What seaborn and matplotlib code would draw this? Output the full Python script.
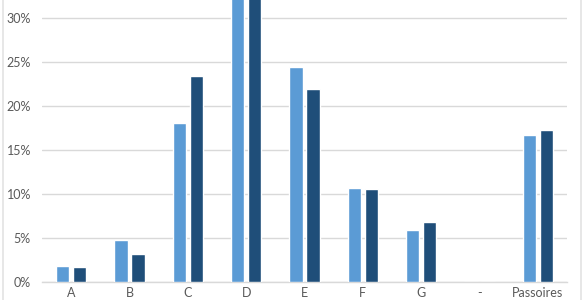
import matplotlib
matplotlib.use("Agg")
import matplotlib.pyplot as plt
import seaborn as sns
import pandas as pd
from matplotlib.lines import Line2D
from matplotlib.ticker import FuncFormatter

categories = ["A", "B", "C", "D", "E", "F", "G", "-", "Passoires"]
series_names = ["Série 1", "Série 2"]
values_1 = [1.8, 4.8, 18.0, 33.5, 24.4, 10.7, 5.9, 0.0, 16.7]
values_2 = [1.7, 3.2, 23.4, 34.0, 21.9, 10.5, 6.8, 0.0, 17.3]
yticks = [0, 5, 10, 15, 20, 25, 30]

df = pd.DataFrame({
    "cat": categories * 2,
    "serie": [series_names[0]] * len(categories) + [series_names[1]] * len(categories),
    "val": values_1 + values_2,
})

sns.set_theme(style="white")
plt.rcParams["font.family"] = ["Lato", "DejaVu Sans"]

fig = plt.figure(figsize=(5.85, 3.0), dpi=100)
ax = fig.add_axes([42 / 585, (300 - 281.7) / 300, (567 - 42) / 585, 281.7 / 300])

sns.barplot(data=df, x="cat", y="val", hue="serie", order=categories,
            hue_order=series_names, palette=["#5B9BD5", "#1F4E79"],
            saturation=1, width=0.583, gap=0.235, legend=False, ax=ax, zorder=3)

ax.set_ylim(0, 32.05)
ax.set_xlim(-0.5, len(categories) - 0.5)
ax.set_yticks(yticks)
ax.yaxis.set_major_formatter(FuncFormatter(lambda v, p: f"{v:.0f}%"))
ax.grid(axis="y", color="#D9D9D9", linewidth=1.0, zorder=0)
ax.set_axisbelow(True)
for s in ["top", "right", "left"]:
    ax.spines[s].set_visible(False)
ax.spines["bottom"].set_color("#D9D9D9")
ax.spines["bottom"].set_linewidth(1.0)
ax.set_xlabel("")
ax.set_ylabel("")
ax.tick_params(axis="y", length=0, pad=8, labelsize=9, labelcolor="#595959")
ax.tick_params(axis="x", length=0, pad=4, labelsize=9, labelcolor="#595959")

fig.add_artist(Line2D([2.5 / 585, 2.5 / 585], [0, 1], transform=fig.transFigure,
                      color="#E3E3E3", linewidth=1.2))
fig.add_artist(Line2D([580.5 / 585, 580.5 / 585], [0, 1], transform=fig.transFigure,
                      color="#E3E3E3", linewidth=1.2))

fig.savefig("out.png", dpi=100)
